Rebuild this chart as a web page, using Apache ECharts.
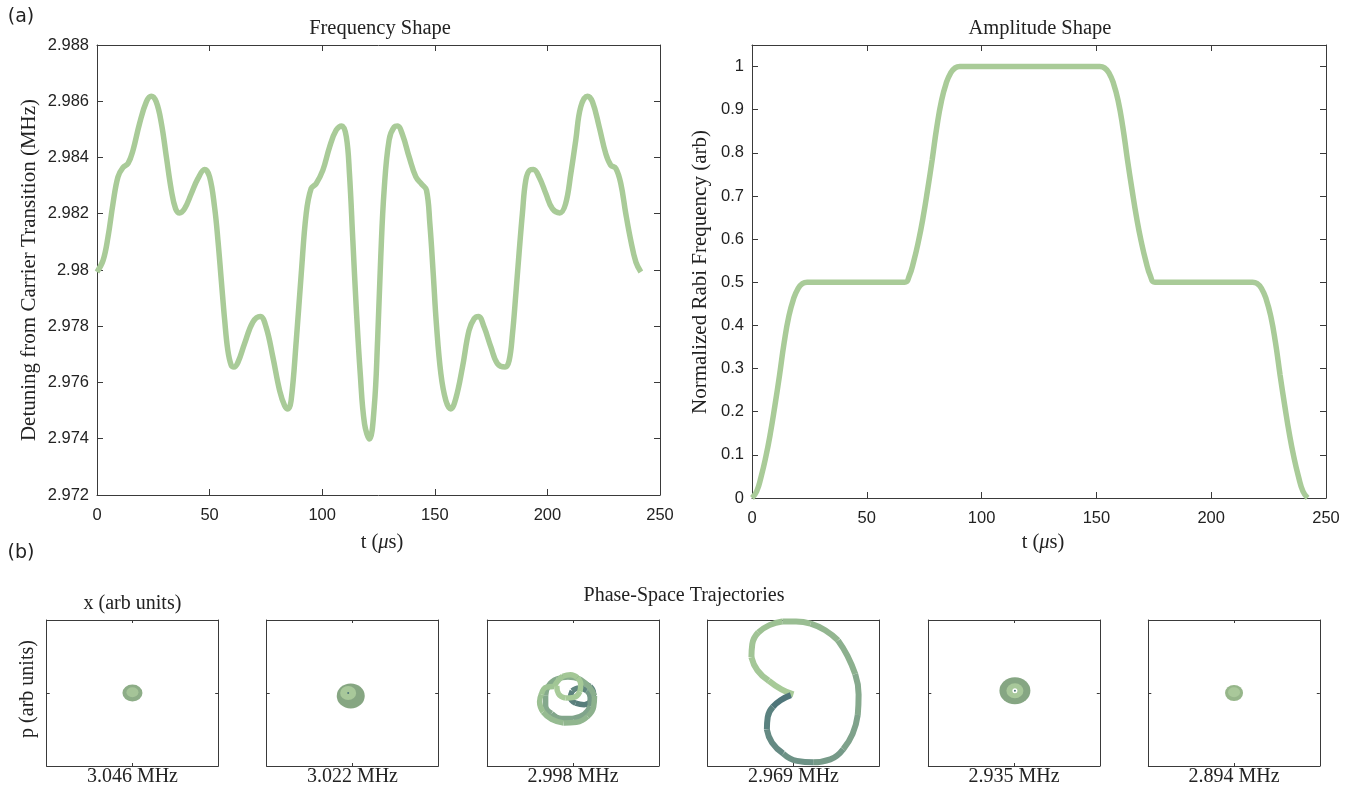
<!DOCTYPE html>
<html><head><meta charset="utf-8">
<script src="https://cdn.jsdelivr.net/npm/echarts@6/dist/echarts.min.js"></script>
<style>html,body{margin:0;padding:0;background:#fff}#c{width:1359px;height:787px}</style>
</head><body><div id="c"></div>
<script>
// ---------- data ----------
const freqT = [0,2.7,4.9,7.1,9.3,11.5,13.8,16.0,18.9,21.9,24.1,26.3,28.6,30.8,33.0,34.9,36.7,38.9,41.9,44.8,47.8,50.0,52.2,53.7,55.2,56.7,58.1,59.6,60.8,62.6,65.5,69.2,72.5,75.1,78.1,81.1,83.3,84.8,86.2,88.5,90.7,92.9,95.1,97.3,100.3,103.3,106.2,108.7,110.7,112.1,113.6,115.1,116.9,118.8,121.0,123.1,124.6,126.0,127.5,129.7,132.0,133.4,135.7,138.6,141.6,144.2,146.3,147.8,149.3,150.7,152.7,154.9,157.1,159.3,162.3,165.2,167.5,169.4,171.9,174.9,177.8,181.2,183.0,184.5,186.0,187.4,188.9,190.4,192.2,193.8,196.3,199.3,202.2,205.5,208.1,210.4,212.6,214.8,217.8,220.0,223.0,225.9,228.1,230.4,232.6,234.8,237.0,239.3,241.5];
const freqMHz = [2.97993,2.98034,2.98118,2.98236,2.98331,2.98364,2.98379,2.98426,2.98521,2.98598,2.98618,2.98598,2.98521,2.98402,2.98284,2.98218,2.98203,2.98218,2.98272,2.98325,2.98357,2.98331,2.98224,2.98106,2.97963,2.97821,2.97714,2.97661,2.97655,2.97672,2.97738,2.97815,2.97835,2.97797,2.97690,2.97571,2.97518,2.97506,2.97536,2.97750,2.97987,2.98201,2.98290,2.98307,2.98355,2.98438,2.98497,2.98512,2.98474,2.98343,2.98106,2.97868,2.97631,2.97453,2.97399,2.97512,2.97750,2.98046,2.98284,2.98462,2.98509,2.98512,2.98480,2.98402,2.98331,2.98305,2.98284,2.98165,2.97987,2.97809,2.97631,2.97536,2.97506,2.97542,2.97655,2.97785,2.97827,2.97835,2.97797,2.97726,2.97667,2.97655,2.97678,2.97773,2.97916,2.98058,2.98201,2.98319,2.98355,2.98357,2.98331,2.98272,2.98218,2.98203,2.98236,2.98343,2.98462,2.98580,2.98618,2.98598,2.98509,2.98414,2.98373,2.98361,2.98307,2.98201,2.98106,2.98028,2.97993];

const ampT = [0,2,4,6,8,10,12,14,16,18,20,22,24,66.5,68.5,70.5,72.5,74.5,76.5,78.5,80.5,82.5,84.5,86.5,88.5,90.5,151.5,153.5,155.5,157.5,159.5,161.5,163.5,165.5,167.5,169.5,171.5,173.5,175.5,218,220,222,224,226,228,230,232,234,236,238,240,242];
const ampV = [0,0.015,0.05,0.095,0.15,0.215,0.285,0.36,0.42,0.46,0.485,0.497,0.5,0.5,0.515,0.55,0.595,0.65,0.715,0.785,0.86,0.92,0.96,0.985,0.997,1,1,0.997,0.985,0.96,0.92,0.86,0.785,0.715,0.65,0.595,0.55,0.515,0.5,0.5,0.497,0.485,0.46,0.42,0.36,0.285,0.215,0.15,0.095,0.05,0.015,0];

const panelLabels = ['3.046 MHz','3.022 MHz','2.998 MHz','2.969 MHz','2.935 MHz','2.894 MHz'];

// trajectory in panel 3 (2.998 MHz), x and p in arb units
const traj3X = [-0.19,-0.17,-0.09,0.01,0.08,0.09,0.05,-0.03,-0.12,-0.18,-0.22,-0.31,-0.37,-0.39,-0.35,-0.25,-0.11,0.04,0.17,0.24,0.25,0.19,0.08,-0.06,-0.19,-0.28,-0.32,-0.32,-0.25,-0.13,0.00,0.13,0.20,0.20,0.16,0.07,-0.01,-0.03,0.03,0.13,0.21,0.24,0.20,0.12];
const traj3P = [0.10,-0.01,-0.07,-0.06,0.02,0.12,0.21,0.25,0.23,0.16,0.09,0.08,-0.02,-0.12,-0.26,-0.36,-0.41,-0.40,-0.32,-0.19,-0.04,0.08,0.19,0.22,0.19,0.11,-0.03,-0.17,-0.28,-0.35,-0.35,-0.29,-0.18,-0.06,0.03,0.07,0.03,-0.06,-0.14,-0.16,-0.11,-0.01,0.09,0.14];
// trajectory in panel 4 (2.969 MHz)
const traj4X = [0.00,-0.14,-0.29,-0.42,-0.49,-0.48,-0.41,-0.28,-0.13,0.03,0.20,0.37,0.52,0.63,0.72,0.76,0.75,0.69,0.58,0.43,0.23,0.04,-0.12,-0.25,-0.31,-0.30,-0.24,-0.15,-0.03];
const traj4P = [-0.02,0.05,0.17,0.31,0.49,0.67,0.83,0.93,0.98,0.98,0.95,0.86,0.72,0.51,0.26,-0.02,-0.30,-0.56,-0.77,-0.91,-0.95,-0.93,-0.83,-0.68,-0.50,-0.33,-0.19,-0.10,-0.03];
// tight spirals (blobs) in panels 1, 2, 5, 6
const blobPanel = [0, 1, 4, 5];
const blobOuterX = [0, -0.02, 0.01, 0];
const blobOuterP = [0, -0.04, 0.03, 0];
const blobInnerX = [0, -0.05, 0.01, 0];
const blobInnerP = [0.01, 0.00, 0.03, 0.01];

// ---------- styling / layout ----------
const AX = '#3a3a3a', TXT = '#222222';
const SERIF = '"Liberation Serif","Times New Roman",serif';
const SANS = '"Liberation Sans",Arial,sans-serif';
const GREEN = '#a9cb98';

const grids = [
  {left:97, top:45, width:563, height:450},
  {left:752, top:45, width:574, height:453}
];
const boxLefts = [46.7, 266.7, 487.3, 707.7, 928.3, 1148.3];
const BOX_W = 171.5, BOX_T = 620, BOX_H = 146;
boxLefts.forEach(l => grids.push({left:l, top:BOX_T, width:BOX_W, height:BOX_H}));
grids.forEach(g => { g.containLabel = false; g.outerBoundsMode = 'none'; });

const xAxes = [], yAxes = [];
function mkAxes(gi, xr, yr, big, yFmt){
  const tick = {show:true, inside:true, length: big ? 6 : 3, lineStyle:{color:AX, width:1}};
  const line = {show:true, onZero:false, lineStyle:{color:AX, width:1}};
  const lab = big ? {show:true, margin:12, fontFamily:SANS, fontSize:16.5, color:TXT} : {show:false};
  const base = {type:'value', gridIndex:gi, axisLine:line, axisTick:tick, splitLine:{show:false}, scale:false};
  xAxes.push(Object.assign({}, base, {position:'bottom', min:xr[0], max:xr[1], interval:xr[2], axisLabel:lab}));
  xAxes.push(Object.assign({}, base, {position:'top', min:xr[0], max:xr[1], interval:xr[2], axisLabel:{show:false}}));
  const ylab = big ? {show:true, margin:8, fontFamily:SANS, fontSize:16.5, color:TXT, formatter:yFmt} : {show:false};
  yAxes.push(Object.assign({}, base, {position:'left', min:yr[0], max:yr[1], interval:yr[2], axisLabel:ylab}));
  yAxes.push(Object.assign({}, base, {position:'right', min:yr[0], max:yr[1], interval:yr[2], axisLabel:{show:false}}));
}
mkAxes(0, [0,250,50], [2.972,2.988,0.002], true, v => String(Math.round(v*1000)/1000));
mkAxes(1, [0,250,50], [0,1.05,0.1], true, v => v > 1.001 ? '' : String(Math.round(v*10)/10));
for (let p = 0; p < 6; p++) mkAxes(p+2, [-1,1,1], [-1,1,1], false);

function hex2rgb(h){ return [parseInt(h.slice(1,3),16), parseInt(h.slice(3,5),16), parseInt(h.slice(5,7),16)]; }
function lerpColor(stops, f){
  for (let i = 0; i < stops.length-1; i++){
    if (f <= stops[i+1][0] || i === stops.length-2){
      const a = hex2rgb(stops[i][1]), b = hex2rgb(stops[i+1][1]);
      const t = Math.max(0, Math.min(1, (f - stops[i][0])/(stops[i+1][0]-stops[i][0])));
      return 'rgb(' + a.map((c,k) => Math.round(c + (b[k]-c)*t)).join(',') + ')';
    }
  }
}
function trajSeries(xs, ps, panel, stops, width){
  const ax = 2*(panel+2), out = [], n = xs.length;
  for (let s = 0; s < n-1; s += 2){
    const e = Math.min(s+2, n-1), pts = [];
    for (let k = s; k <= e; k++) pts.push([xs[k], ps[k]]);
    const f = ((s+e)/2)/(n-1);
    out.push({type:'line', xAxisIndex:ax, yAxisIndex:ax, data:pts, smooth:0.5, symbol:'none', showSymbol:false,
      lineStyle:{color:lerpColor(stops,f), width:width, cap:'butt', join:'round'}, silent:true, animation:false, clip:false, z:3});
  }
  return out;
}

const series = [];
series.push({type:'line', xAxisIndex:0, yAxisIndex:0, data:freqT.map((t,i)=>[t,freqMHz[i]]), smooth:0.4,
  symbol:'none', showSymbol:false, lineStyle:{color:GREEN, width:5.5}, clip:false, animation:false, silent:true});
series.push({type:'line', xAxisIndex:2, yAxisIndex:2, data:ampT.map((t,i)=>[t,ampV[i]]), smooth:0.5,
  symbol:'none', showSymbol:false, lineStyle:{color:GREEN, width:5.5}, clip:false, animation:false, silent:true});

const stops3 = [[0,'#a9cc99'],[0.25,'#a0c594'],[0.45,'#8cb08d'],[0.74,'#7fa38b'],[0.82,'#5e837e'],[0.92,'#567c7b'],[1,'#6f9487']];
const stops4 = [[0,'#a9cc99'],[0.3,'#9bbf92'],[0.6,'#80a38b'],[0.85,'#618782'],[1,'#4a7178']];
// light (early) part of panel 3 drawn on top
trajSeries(traj3X, traj3P, 2, stops3, 5.5).reverse().forEach(s => series.push(s));
trajSeries(traj4X, traj4P, 3, stops4, 6).forEach(s => series.push(s));

const outerSize = [[20,17],[28,25],[31,27],[18,16]];
const outerColor = ['#8dad87','#86a682','#86a683','#96b68a'];
const innerSize = [[12,10],[16,14],[17,15],[12,10]];
const innerColor = ['#a5c498','#a8c89a','#a8c89a','#a9c89a'];
blobPanel.forEach((p,i) => {
  const ax = 2*(p+2);
  series.push({type:'scatter', xAxisIndex:ax, yAxisIndex:ax, data:[[blobOuterX[i], blobOuterP[i]]], symbol:'circle',
    symbolSize:outerSize[i], itemStyle:{color:outerColor[i], opacity:1}, silent:true, animation:false, z:3});
  series.push({type:'scatter', xAxisIndex:ax, yAxisIndex:ax, data:[[blobInnerX[i], blobInnerP[i]]], symbol:'circle',
    symbolSize:innerSize[i], itemStyle:{color:innerColor[i], opacity:1}, silent:true, animation:false, z:4});
  if (p === 4) {
    series.push({type:'scatter', xAxisIndex:ax, yAxisIndex:ax, data:[[blobInnerX[i], blobInnerP[i]]], symbol:'circle',
      symbolSize:5, itemStyle:{color:'#ffffff', opacity:1}, silent:true, animation:false, z:5});
  }
  if (p === 1 || p === 4) {
    series.push({type:'scatter', xAxisIndex:ax, yAxisIndex:ax, data:[[blobInnerX[i], blobInnerP[i]]], symbol:'circle',
      symbolSize:2, itemStyle:{color:'#4b7278', opacity:1}, silent:true, animation:false, z:6});
  }
});

// ---------- texts ----------
const graphic = [];
function txt(text, x, y, font, opts){
  graphic.push(Object.assign({type:'text', x:x, y:y, silent:true,
    style:Object.assign({text:text, font:font, fill:TXT, textAlign:'center', textVerticalAlign:'middle'}, (opts&&opts.style)||{})},
    (opts&&opts.rotation!==undefined)?{rotation:opts.rotation, originX:0, originY:0}:{}));
}
txt('(a)', 21, 17, '19px "DejaVu Sans",sans-serif');
txt('(b)', 21, 553, '19px "DejaVu Sans",sans-serif');
txt('Frequency Shape', 380, 29, '20.5px ' + SERIF);
txt('Amplitude Shape', 1040, 29, '20.5px ' + SERIF);
txt('Detuning from Carrier Transition (MHz)', 29, 270, '21px ' + SERIF, {rotation: Math.PI/2});
txt('Normalized Rabi Frequency (arb)', 700, 272, '21px ' + SERIF, {rotation: Math.PI/2});
const tRich = {r:{fontFamily:'Liberation Serif', fontSize:20.5, fill:TXT}, i:{fontFamily:'Liberation Serif', fontStyle:'italic', fontSize:20.5, fill:TXT}};
graphic.push({type:'text', x:382, y:543, silent:true, style:{text:'{r|t (}{i|μ}{r|s)}', rich:tRich, textAlign:'center', textVerticalAlign:'middle', fill:TXT}});
graphic.push({type:'text', x:1043, y:543, silent:true, style:{text:'{r|t (}{i|μ}{r|s)}', rich:tRich, textAlign:'center', textVerticalAlign:'middle', fill:TXT}});
txt('Phase-Space Trajectories', 684, 596, '20px ' + SERIF);
txt('x (arb units)', boxLefts[0] + BOX_W/2, 603.5, '20px ' + SERIF);
txt('p (arb units)', 27.5, 689, '20px ' + SERIF, {rotation: Math.PI/2});
panelLabels.forEach((s,i) => txt(s, boxLefts[i] + BOX_W/2, 777, '20px ' + SERIF));

const chart = echarts.init(document.getElementById('c'), null, {renderer:'canvas', width:1359, height:787});
chart.setOption({
  animation:false,
  backgroundColor:'#ffffff',
  grid:grids,
  xAxis:xAxes,
  yAxis:yAxes,
  series:series,
  graphic:graphic
});
</script>
</body></html>
